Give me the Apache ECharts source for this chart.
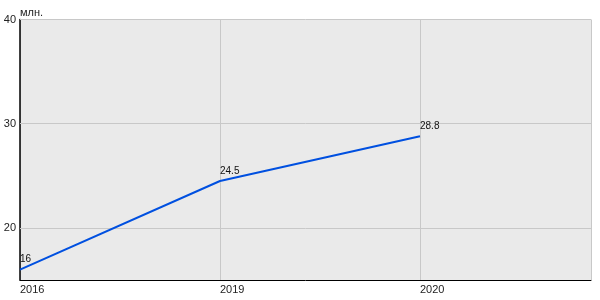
<!DOCTYPE html>
<html><head><meta charset="utf-8">
<script src="https://cdn.jsdelivr.net/npm/echarts@6/dist/echarts.min.js"></script>
<style>html,body{margin:0;padding:0;background:#fff}#c{width:600px;height:300px}</style>
</head><body><div id="c"></div>
<script>
const years = ['2016', '2019', '2020'];
const values = [16, 24.5, 28.8];
const yTickLabels = [20, 30, 40];
const unit = 'млн.';

const chart = echarts.init(document.getElementById('c'), null, {renderer: 'canvas'});
const font = 'Arial, "Liberation Sans", sans-serif';
chart.setOption({
  animation: false,
  grid: {left: 20, right: 9, top: 19.5, bottom: 20, show: true, backgroundColor: '#eaeaea', borderWidth: 0},
  xAxis: {
    type: 'value', min: 0, max: 2.855, interval: 1,
    axisLine: {show: true, lineStyle: {color: '#000', width: 1}},
    axisTick: {show: false},
    splitLine: {show: true, lineStyle: {color: '#c8c8c8', width: 1}},
    axisLabel: {
      color: '#222', fontSize: 11, fontFamily: font, align: 'left', margin: 4,
      showMaxLabel: false,
      formatter: v => (years[Math.round(v)] !== undefined && Math.abs(v - Math.round(v)) < 1e-6) ? years[Math.round(v)] : ''
    }
  },
  yAxis: {
    type: 'value', min: 15, max: 40, interval: 5,
    name: unit, nameLocation: 'end', nameGap: 7, nameMoveOverlap: false,
    nameTextStyle: {color: '#222', fontSize: 11, fontFamily: font, align: 'left', verticalAlign: 'middle'},
    axisLine: {show: true, lineStyle: {color: '#000', width: 1.5}},
    axisTick: {show: false},
    splitLine: {show: false},
    axisLabel: {
      color: '#222', fontSize: 11, fontFamily: font, margin: 4,
      formatter: v => yTickLabels.indexOf(v) >= 0 ? String(v) : ''
    }
  },
  series: [{
    type: 'line',
    data: values.map((v, i) => [i, v]),
    symbol: 'circle', symbolSize: 2, showSymbol: true,
    itemStyle: {color: 'rgba(0,0,0,0)', borderWidth: 0},
    lineStyle: {color: '#0050e0', width: 2},
    label: {
      show: true, position: 'top', align: 'left', distance: 4, offset: [-1, 0],
      color: '#111', fontSize: 10, fontFamily: font,
      formatter: p => String(p.value[1])
    },
    labelLayout: {hideOverlap: false},
    markLine: {
      silent: true, symbol: 'none', z: 1,
      lineStyle: {color: '#c8c8c8', width: 1, type: 'solid'},
      label: {show: false},
      data: yTickLabels.map(v => ({yAxis: v}))
    },
    z: 3
  }]
});
</script></body></html>
